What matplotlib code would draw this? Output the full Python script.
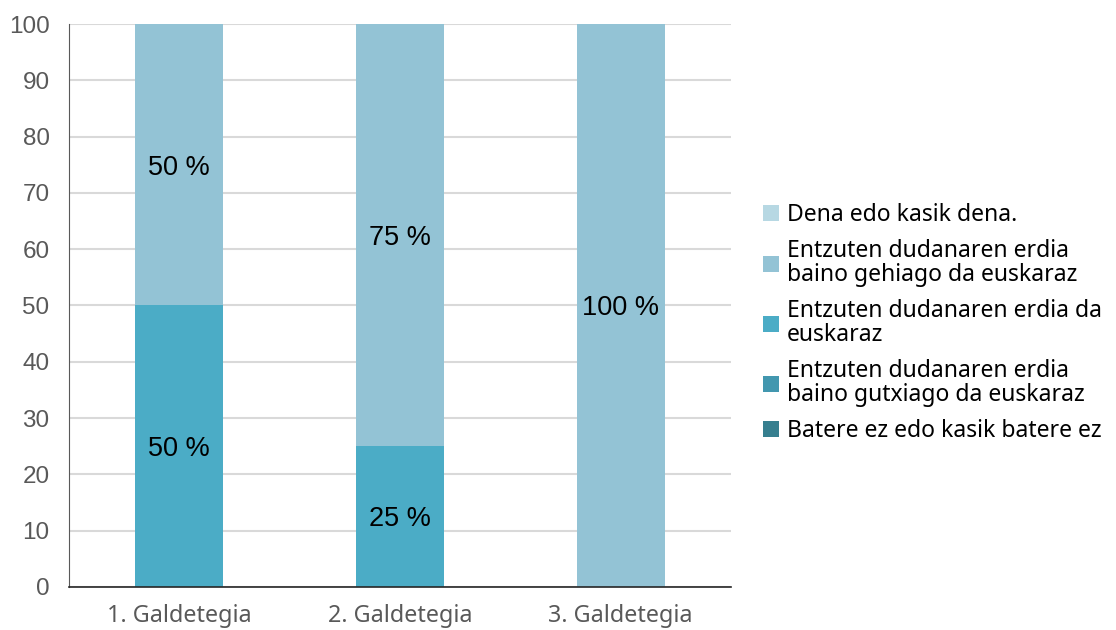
import matplotlib
matplotlib.use("Agg")
from matplotlib import pyplot as plt
import numpy as np

categories = ["1. Galdetegia", "2. Galdetegia", "3. Galdetegia"]

# stacked from bottom to top
series_names = [
    "Batere ez edo kasik batere ez",
    "Entzuten dudanaren erdia\nbaino gutxiago da euskaraz",
    "Entzuten dudanaren erdia da\neuskaraz",
    "Entzuten dudanaren erdia\nbaino gehiago da euskaraz",
    "Dena edo kasik dena.",
]
batere_ez = [0, 0, 0]
gutxiago = [0, 0, 0]
erdia = [50, 25, 0]
gehiago = [50, 75, 100]
dena = [0, 0, 0]
series_values = [batere_ez, gutxiago, erdia, gehiago, dena]
colors = ["#367F8F", "#4297AF", "#4BACC6", "#93C3D5", "#B7D8E3"]

fig = plt.figure(figsize=(11.16, 6.3), dpi=100)
ax = fig.add_axes([0.0618, 0.0683, 0.5932, 0.8936])

x = np.arange(len(categories))
bottom = np.zeros(len(categories))
handles = []
for name, vals, col in zip(series_names, series_values, colors):
    vals = np.array(vals, dtype=float)
    bars = ax.bar(x, vals, 0.4, bottom=bottom, color=col, label=name, zorder=2)
    handles.append(bars)
    for xi, v, b in zip(x, vals, bottom):
        if v > 0:
            ax.text(xi, b + v / 2 - 0.5, f"{v:.0f} %", ha="center", va="center",
                    fontsize=19.5, family="Liberation Sans", color="black", zorder=3)
    bottom += vals

ax.set_xlim(-0.5, 2.5)
ax.set_ylim(0, 100)
ax.set_yticks(range(0, 101, 10))
ax.yaxis.grid(True, color="#D9D9D9", linewidth=1.5, zorder=0)
ax.set_axisbelow(True)
ax.set_xticks(x)
ax.set_xticklabels(categories, family="Noto Sans", fontsize=16.8, color="#595959")
for lbl in ax.get_yticklabels():
    lbl.set_family("Liberation Sans")
    lbl.set_fontsize(17.5)
    lbl.set_color("#595959")
ax.tick_params(axis="x", length=0, pad=12)
ax.tick_params(axis="y", length=0, pad=14)
for side in ["top", "right"]:
    ax.spines[side].set_visible(False)
ax.spines["left"].set_color("#595959")
ax.spines["bottom"].set_color("#262626")
ax.spines["bottom"].set_linewidth(1.2)

leg = fig.legend(handles[::-1], series_names[::-1], loc="center left",
                 bbox_to_anchor=(0.6837, 0.487), frameon=False,
                 prop={"family": "Noto Sans", "size": 16.5},
                 handlelength=0.7, handleheight=0.7, handletextpad=0.35,
                 labelspacing=0.53, borderpad=0, borderaxespad=0)
for t in leg.get_texts():
    t.set_linespacing(1.0)

fig.savefig("out.png", dpi=100)
